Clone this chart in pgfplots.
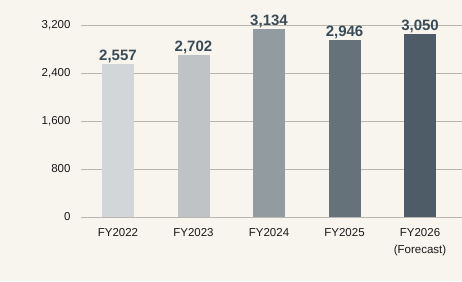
\documentclass[border=0pt]{standalone}
\usepackage{pgfplots}
\pgfplotsset{compat=1.18}
\usepackage{fontspec}
\setmainfont{Liberation Sans}
\definecolor{bg}{HTML}{F8F5EE}
\definecolor{gridc}{HTML}{BAB7B0}
\definecolor{lab}{HTML}{3A4B58}
\definecolor{cA}{HTML}{D3D6D9}
\definecolor{cB}{HTML}{BFC3C6}
\definecolor{cC}{HTML}{929BA0}
\definecolor{cD}{HTML}{66727A}
\definecolor{cE}{HTML}{4D5C66}
\begin{document}
\begin{tikzpicture}
\fill[bg] (0,0) rectangle (462pt,281pt);
\useasboundingbox (0,0) rectangle (462pt,281pt);
\begin{axis}[
  at={(81pt,64pt)}, anchor=south west,
  scale only axis, width=381pt, height=192pt,
  ybar, bar width=32pt, bar shift=0pt,
  xmin=-0.49, xmax=4.556, ymin=0, ymax=3200,
  xtick={0,1,2,3,4},
  xticklabels={FY2022,FY2023,FY2024,FY2025,{FY2026\\(Forecast)}},
  ytick={0,800,1600,2400,3200},
  ymajorgrids, grid style={draw=gridc, line width=0.9pt},
  axis line style={draw=none}, major tick length=0pt,
  /pgf/number format/assume math mode=true,
  /pgf/number format/.cd, 1000 sep={,}, /pgfplots/.cd,
  yticklabel style={font=\fontsize{11.5}{13}\selectfont, text=black!90, anchor=east, xshift=-7pt},
  xticklabel style={font=\fontsize{11.5}{17}\selectfont, text=black!90, align=center, anchor=north, yshift=-8pt},
  nodes near coords,
  every node near coord/.append style={font=\bfseries\fontsize{15}{17}\selectfont, text=lab, anchor=base, yshift=3.5pt, inner sep=0pt},
]
\addplot[fill=cA, draw=none] coordinates {(0,2557)};
\addplot[fill=cB, draw=none] coordinates {(1,2702)};
\addplot[fill=cC, draw=none] coordinates {(2,3134)};
\addplot[fill=cD, draw=none] coordinates {(3,2946)};
\addplot[fill=cE, draw=none] coordinates {(4,3050)};
\end{axis}
\end{tikzpicture}
\end{document}
